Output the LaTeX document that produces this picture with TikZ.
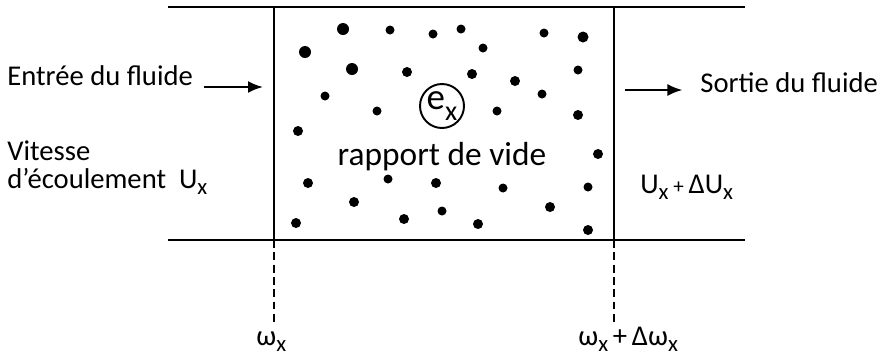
\documentclass[tikz,border=0pt]{standalone}
\usepackage{fontspec}
\setmainfont{Carlito}
\usetikzlibrary{arrows.meta,positioning}
\newcommand{\idx}[2][13]{\raisebox{-0.45ex}{\fontsize{#1}{#1}\selectfont #2}}

\begin{document}
\begin{tikzpicture}[
  x=0.02cm,y=-0.02cm,
  wall/.style={line width=1.3pt,draw=black},
  cut/.style={line width=1.2pt,draw=black,dash pattern=on 4.5pt off 2.5pt},
  flow/.style={-{Latex[length=3mm,width=2.4mm]},line width=1.2pt,draw=black},
  lbl/.style={font=\fontsize{16.3}{18}\selectfont,inner sep=0pt,align=left},
  big/.style={font=\fontsize{19}{21}\selectfont,inner sep=0pt},
  dot/.style={fill=black}
]
\useasboundingbox (0,0) rectangle (891,360);
% conduit
\coordinate (tl) at (168,7);
\coordinate (tr) at (745,7);
\coordinate (bl) at (168,240);
\coordinate (br) at (745,240);
\coordinate (a1) at (274,7);
\coordinate (a2) at (274,240);
\coordinate (a3) at (274,325);
\coordinate (b1) at (614,7);
\coordinate (b2) at (614,240);
\coordinate (b3) at (614,325);
\draw[wall] (tl) -- (tr);
\draw[wall] (bl) -- (br);
\draw[wall] (a1) -- (a2);
\draw[wall] (b1) -- (b2);
\draw[cut] (a2) -- (a3);
\draw[cut] (b2) -- (b3);
% bulles
\foreach \px/\py/\r in {343/29/6,390/30/4.5,433/34/4.5,461/29/4.5,544/33/4.5,583/37/5.5,
  305/52/6,483/48/4.5,352/69/6,407/72/5,472/74/5,515/81/5,578/70/4.5,
  325/96/4.5,542/94/4.5,377/111/4.5,497/111/4.5,578/115/5,298/131/5,598/154/5,
  308/183/5,388/179/4.5,436/183/5,503/188/4.5,588/187/4.5,354/202/5,442/211/4.5,
  550/207/5,296/223/5,404/219/5,478/224/5,588/230/5}
  \fill[dot] (\px,\py) circle[radius=\r*0.02cm];
% textes
\node[lbl,anchor=base west] (entree) at (7,85) {Entrée du fluide};
\node[lbl,anchor=base west] (vitesse) at (7,160) {Vitesse};
\node[lbl,anchor=base west] (ecoul) at (7,188) {d'écoulement\ \ U\idx{x}};
\node[lbl,anchor=base west] (sortie) at (700,92) {Sortie du fluide};
\node[lbl,anchor=base west] (ux) at (640,193) {U\idx{x}\,{\fontsize{12}{12}\selectfont+}\,ΔU\idx{x}};
\node[big,anchor=base] (vide) at (442,165) {rapport de vide};
\node[draw,circle,line width=1.1pt,inner sep=0pt,minimum size=44*0.02cm,font=\fontsize{21}{21}\selectfont] (ex) at (442,106) {\raisebox{0.2ex}{e}\idx[16]{x}};
\node[lbl,anchor=base west] (w1) at (256,345) {ω\idx{x}};
\node[lbl,anchor=base west] (w2) at (578,345) {ω\idx{x}\,+\,Δω\idx{x}};
% fleches
\coordinate (in) at (263,87);
\coordinate (out) at (625,90);
\draw[flow,shorten <=6pt] (entree.east |- in) -- (in);
\draw[flow,shorten >=10pt] (out) -- (sortie.west |- out);
\end{tikzpicture}
\end{document}
